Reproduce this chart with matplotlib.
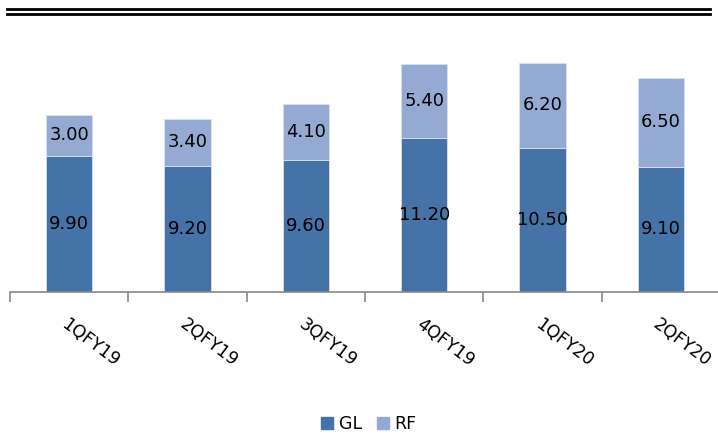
import numpy as np
import matplotlib
matplotlib.use('Agg')
import matplotlib.pyplot as plt
from matplotlib.lines import Line2D

quarters = ['1QFY19', '2QFY19', '3QFY19', '4QFY19', '1QFY20', '2QFY20']
gl = [9.90, 9.20, 9.60, 11.20, 10.50, 9.10]
rf = [3.00, 3.40, 4.10, 5.40, 6.20, 6.50]

gl_color = '#4572A7'
rf_color = '#95AAD2'

plt.rcParams['font.family'] = 'DejaVu Sans'

fig = plt.figure(figsize=(7.18, 4.37), dpi=100)
W, H = 718, 437
# axes: x from 10 px to 720 px, baseline at y=292 px
ymax = 19.0
px_per_unit = 13.74
ax_h = ymax * px_per_unit
ax = fig.add_axes([10 / W, (H - 292) / H, 710 / W, ax_h / H])

x = np.arange(len(quarters))
bw = 0.39
ax.bar(x, gl, width=bw, color=gl_color, edgecolor='#D8E0EE', linewidth=0.6, label='GL')
ax.bar(x, rf, width=bw, bottom=gl, color=rf_color, edgecolor='#D8E0EE', linewidth=0.6, label='RF')

for i in range(len(quarters)):
    ax.text(x[i], gl[i] / 2, f'{gl[i]:.2f}', ha='center', va='center', fontsize=13)
    ax.text(x[i], gl[i] + rf[i] / 2, f'{rf[i]:.2f}', ha='center', va='center', fontsize=13)

ax.set_xlim(-0.5, len(quarters) - 0.5)
ax.set_ylim(0, ymax)
for s in ['top', 'right', 'left']:
    ax.spines[s].set_visible(False)
ax.spines['bottom'].set_color('#888888')
ax.spines['bottom'].set_linewidth(1.2)
ax.set_yticks([])

ax.set_xticks(x)
ax.set_xticklabels(quarters, rotation=-37, ha='left', va='top',
                   rotation_mode='anchor', fontsize=12.5)
ax.tick_params(axis='x', which='major', length=0, pad=17)
ax.set_xticks(np.arange(len(quarters) + 1) - 0.5, minor=True)
ax.tick_params(axis='x', which='minor', length=7, width=1.2, color='#888888')

handles = [plt.Rectangle((0, 0), 1, 1, color=gl_color),
           plt.Rectangle((0, 0), 1, 1, color=rf_color)]
fig.legend(handles, ['GL', 'RF'], loc='center', bbox_to_anchor=(369 / W, (H - 424) / H),
           ncol=2, frameon=False, fontsize=12.5, handlelength=0.7, handleheight=0.7,
           handletextpad=0.3, columnspacing=0.9)

# double rule at top
fig.add_artist(Line2D([7 / W, 710 / W], [(H - 8.5) / H] * 2, color='black', linewidth=2.0))
fig.add_artist(Line2D([7 / W, 710 / W], [(H - 14) / H] * 2, color='black', linewidth=2.0))

fig.savefig('out.png', dpi=100)
